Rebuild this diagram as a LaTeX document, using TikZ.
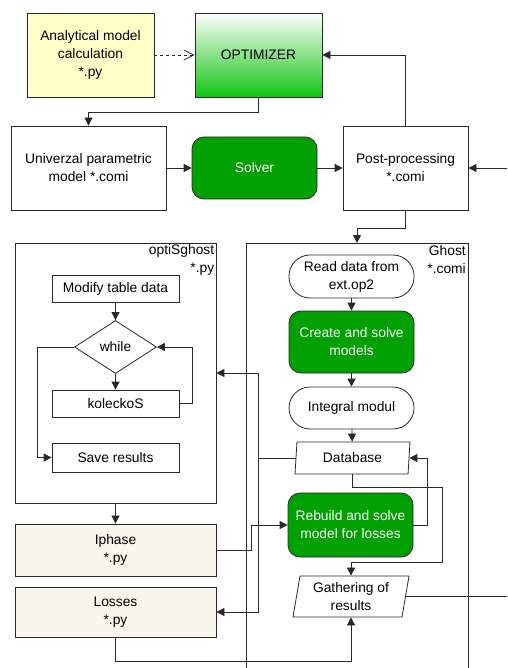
\documentclass[tikz,border=0pt]{standalone}
\usepackage{fontspec}
\setmainfont{Liberation Sans}
\usetikzlibrary{arrows.meta,shapes.geometric,positioning}

\definecolor{boxline}{RGB}{40,40,40}
\definecolor{anayellow}{RGB}{255,255,200}
\definecolor{pyfill}{RGB}{248,245,236}
\definecolor{solvegreen}{RGB}{0,160,0}
\definecolor{optgreen}{RGB}{16,196,16}

\begin{document}
\begin{tikzpicture}[x=1pt,y=-1pt,font=\fontsize{13.8}{18}\selectfont]

\tikzset{box/.style={draw=boxline, line width=0.8pt, inner sep=0pt, align=center},
pybox/.style={box, fill=pyfill},
greenbox/.style={box, rounded corners=12pt, fill=solvegreen, text=white},
stadium/.style={box, rounded corners=21pt, fill=white},
dataio/.style={box, trapezium, trapezium stretches body, trapezium left angle=#1, trapezium right angle=180-#1},
dataio/.default={79},
line/.style={draw=boxline, line width=0.8pt},
arr/.style={line, -{Triangle[length=8pt,width=8pt]}}}

\useasboundingbox (0,0) rectangle (507,668);

%top row
\node[box, fill=anayellow, minimum width=127pt, minimum height=84pt] (ana) at (90.5,55) {Analytical model\\calculation\\*.py};
\node[box, top color=white, bottom color=optgreen, minimum width=127pt, minimum height=84pt] (opt) at (258.5,55) {OPTIMIZER};

\node[box, minimum width=155pt, minimum height=84pt] (uni) at (88.5,168) {Univerzal parametric\\model *.comi};
\node[greenbox, minimum width=125pt, minimum height=62pt] (sol) at (254.5,168) {Solver};
\node[box, minimum width=125pt, minimum height=84pt] (post) at (405.5,168) {Post-processing\\ *.comi};

\coordinate (postin) at (507,168);

%the two big frames
\node[box, minimum width=201pt, minimum height=260pt] (optig) at (115.5,373) {};
\node[anchor=north east, inner sep=2pt, align=right] (optiglab) at (optig.north east) {optiSghost\\*.py};

\draw[line] (246,668) |- (468,243) -- (468,668);
\coordinate (gtop) at (357,243);
\node[anchor=north east, inner sep=2pt, align=right] (ghostlab) at (468,243) {Ghost\\*.comi};

%inside optiSghost
\node[box, minimum width=127pt, minimum height=27pt] (modify) at (115.5,288.5) {Modify table data};
\node[box, diamond, minimum width=82pt, minimum height=53pt] (while) at (115.5,347) {while};
\node[box, minimum width=127pt, minimum height=27pt] (kol) at (115.5,403.5) {koleckoS};
\node[box, minimum width=127pt, minimum height=29pt] (save) at (115.5,457.5) {Save results};

%inside Ghost
\node[stadium, minimum width=125pt, minimum height=43pt] (read) at (351.5,276.5) {Read data from\\ext.op2};
\node[greenbox, minimum width=125pt, minimum height=62pt] (create) at (351.5,342) {Create and solve\\models};
\node[stadium, minimum width=125pt, minimum height=42pt] (integ) at (351.5,408) {Integral modul};
\node[dataio, minimum width=115pt, minimum height=32pt] (db) at (352.5,458) {Database};
\node[greenbox, minimum width=125pt, minimum height=64pt] (rebuild) at (350.5,525) {Rebuild and solve\\model for losses};
\node[dataio=76, minimum width=116pt, minimum height=41pt] (gath) at (351,596.5) {Gathering of\\results};

\coordinate (gathout) at (507,596.5);

%python boxes below
\node[pybox, minimum width=201pt, minimum height=52pt] (iphase) at (115.5,550) {Iphase\\*.py};
\node[pybox, minimum width=201pt, minimum height=50pt] (losses) at (115.5,612) {Losses\\*.py};

%now the connectors
\draw[line, dashed, -{Straight Barb[length=10pt,width=10pt]}] (ana) -- (opt);
\draw[arr] (opt.south) -- ++(0,15) -| (uni.north);
\draw[arr] (uni) -- (sol);
\draw[arr] (sol) -- (post);
\draw[arr] (post.north) |- (opt.east);
\draw[arr] (postin) -- (post.east);
\draw[arr] (post.south) -- ++(0,18) -| (gtop);

\draw[arr] (modify) -- (while);
\draw[arr] (while) -- (kol);
\draw[arr] (kol.east) -- ++(13,0) |- (while.east);
\draw[arr] (while.west) -- ++(-37,0) |- (save.west);
\draw[arr] (optig) -- (iphase);

\foreach \a/\b in {read/create, create/integ, integ/db}
  \draw[arr] (\a) -- (\b);

\draw[arr] (db.west) -| (258,0 |- optig.east) -- (optig.east);
\draw[arr] (db.west) -| (258,0 |- losses.east) -- (losses.east);
\draw[arr] (iphase.east) -- ++(35,0) |- (rebuild.west);
\draw[arr] (rebuild.east) -- ++(14,0) |- (db.east);
\draw[arr] (db.south) -- ++(0,13) -| ++(90,75) -| (gath.north);
\draw[line] (gath.east) -- (gathout);
\draw[arr] (losses.south) -- ++(0,24) -| (gath.south);

\end{tikzpicture}
\end{document}
